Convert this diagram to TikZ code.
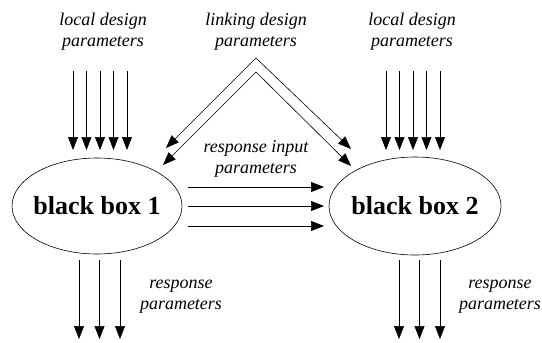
\documentclass[tikz,border=0pt]{standalone}
\usepackage{fontspec}
\setmainfont{Liberation Serif}
\usetikzlibrary{arrows.meta,calc}

\begin{document}
\begin{tikzpicture}[x=1pt,y=-1pt,
    box/.style={font=\bfseries\fontsize{26}{30}\selectfont,inner sep=0pt},
    lbl/.style={align=center,font=\itshape\fontsize{18}{21}\selectfont,inner sep=0pt},
    arr/.style={-{Triangle[length=13pt,width=10pt]},line width=0.6pt},
    link/.style={{Triangle[length=13pt,width=10pt]}-{Triangle[length=13pt,width=10pt]},line width=0.6pt}]
    \useasboundingbox (0,0) rectangle (542,343);

    % the two boxes
    \node[box] (bb1) at (97,206) {black box 1};
    \node[box] (bb2) at (415,206) {black box 2};
    \draw[line width=0.6pt] (bb1.center) ellipse [x radius=85pt,y radius=48pt];
    \draw[line width=0.6pt] (bb2.center) ellipse [x radius=86pt,y radius=49pt];

    % labels
    \node[lbl] (ldp1) at (103,32) {local design\\parameters};
    \node[lbl] (ldp2) at (412,32) {local design\\parameters};
    \node[lbl] (ldpl) at (256,32) {linking design\\parameters};
    \node[lbl] (rip) at (256,159) {response input\\parameters};
    \node[lbl] (rp1) at (181,297) {response\\parameters};
    \node[lbl] (rp2) at (500,297) {response\\parameters};

    % local design parameters
    \foreach \i in {-2,...,2} {
        \draw[arr] ($(bb1)+(3+13.5*\i,-135)$) -- ++(0,79);
        \draw[arr] ($(bb2)+(-2+13.5*\i,-135)$) -- ++(0,79);
    }

    % response parameters
    \foreach \i in {-1,0,1} {
        \draw[arr] ($(bb1)+(2.5+20.5*\i,54)$) -- ++(0,79);
        \draw[arr] ($(bb2)+(4.5+20.5*\i,54)$) -- ++(0,79);
    }

    % response input parameters
    \foreach \y in {-19,0,20}
        \draw[arr] ($(bb1)+(91,\y)$) -- ($(bb2)+(-91,\y)$);

    % linking design parameters
    \coordinate (apo) at ($(ldpl)+(0,26)$);
    \coordinate (api) at ($(ldpl)+(0,40)$);
    \draw[link] ($(bb1)+(69,-58)$) -- (apo) -- ($(bb2)+(-64,-57)$);
    \draw[link] ($(bb1)+(66,-41)$) -- (api) -- ($(bb2)+(-64,-40)$);
\end{tikzpicture}
\end{document}
